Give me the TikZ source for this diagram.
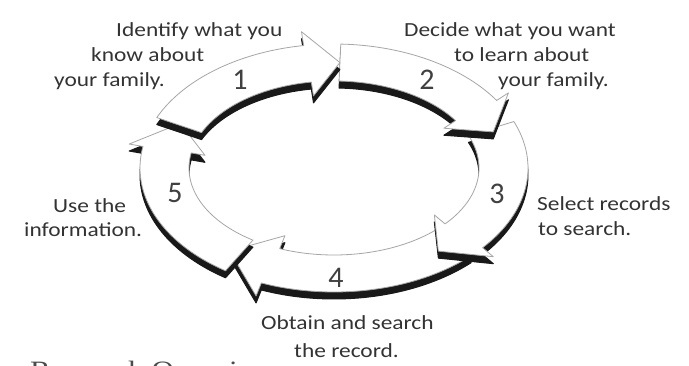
\documentclass[tikz,border=0pt]{standalone}
\usepackage{fontspec}
\newfontfamily\labfont[FakeStretch=1.17]{Carlito}
\newfontfamily\numfont{Carlito}
\newfontfamily\titlefont[FakeStretch=1.17]{Liberation Serif}
% #1 tail angle, #2 head-base angle, #3 tip angle (clockwise on screen)
\newcommand\arrowpath[3]{%
 plot[domain=#1:#2, samples=40] ({334+194*cos(\x)},{168+124*sin(\x)})
 -- ({334+208*cos(#2)},{168+138*sin(#2)})
 -- ({334+169.5*cos(#3)},{168+105.5*sin(#3)})
 -- ({334+131*cos(#2)},{168+73*sin(#2)})
 -- plot[domain=#2:#1, samples=40] ({334+145*cos(\x)},{168+87*sin(\x)})
 -- cycle}
\newcommand\cyclearrow[3]{%
 \fill[shadowfill, shift={(0,7)}] \arrowpath{#1}{#2}{#3};
 \filldraw[arrowbody] \arrowpath{#1}{#2}{#3};}
\tikzset{
 shadowfill/.style={fill=black!90, draw=black!90, line width=1pt, line join=round},
 arrowbody/.style={fill=white, draw=gray!70, line width=0.8pt, line join=round},
 lab/.style={anchor=base west, inner sep=0pt, font=\labfont\fontsize{20}{24}\selectfont, text=black!80},
 num/.style={inner sep=0pt, font=\numfont\fontsize{30}{36}\selectfont, text=black!75},
 ttl/.style={anchor=base west, inner sep=0pt, font=\titlefont\fontsize{26.5}{30}\selectfont, text=black!70}
}
\begin{document}
\begin{tikzpicture}[x=1pt, y=-1pt]
\useasboundingbox (0,0) rectangle (689,366);
\clip (0,0) rectangle (689,366);
\fill[white] (0,0) rectangle (689,366);
% arrows (drawing order sets overlaps)
\cyclearrow{45}{112}{128}   % 4
\cyclearrow{338}{400}{412}  % 3
\cyclearrow{124}{190}{205}  % 5
\cyclearrow{272}{327}{340}  % 2
\cyclearrow{204}{261}{272}  % 1
% numbers
\node[num] (n1) at (240,80) {1};
\node[num] (n2) at (427,80) {2};
\node[num] (n3) at (497,194) {3};
\node[num] (n4) at (336,278) {4};
\node[num] (n5) at (175,193) {5};
% labels
\node[lab] (l1a) at (116,37) {Identify what you};
\node[lab] (l1b) at (91,62) {know about};
\node[lab] (l1c) at (54,87) {your family.};
\node[lab] (l2a) at (404,37) {Decide what you want};
\node[lab] (l2b) at (454,62) {to learn about};
\node[lab] (l2c) at (498,87) {your family.};
\node[lab] (l3a) at (537,211) {Select records};
\node[lab] (l3b) at (538,236) {to search.};
\node[lab] (l4a) at (261,330) {Obtain and search};
\node[lab] (l4b) at (294,358) {the record.};
\node[lab] (l5a) at (53,213) {Use the};
\node[lab] (l5b) at (24,237) {information.};
\node[ttl] (title) at (30,380) {Research Overview};
\end{tikzpicture}
\end{document}
